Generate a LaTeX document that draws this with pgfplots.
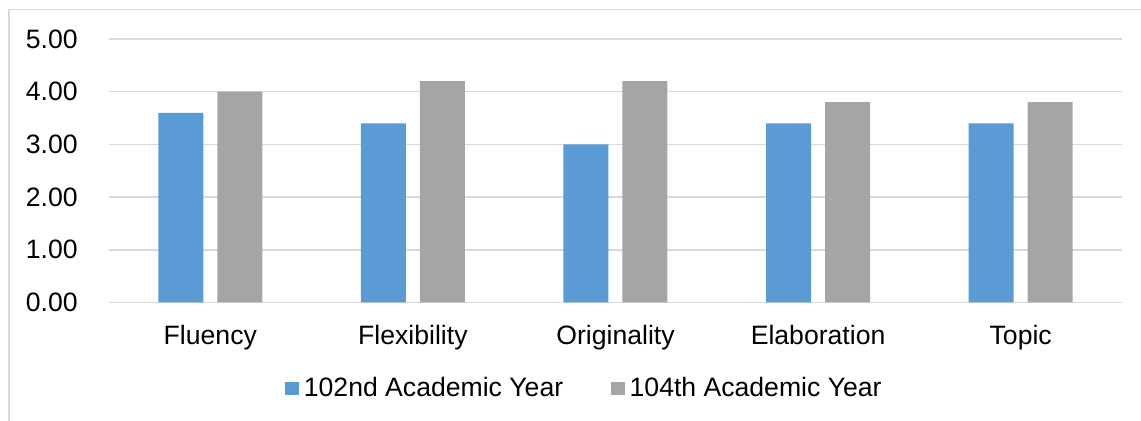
\documentclass[border=0pt]{standalone}
\usepackage{pgfplots}
\pgfplotsset{compat=1.18}
\usepackage{fontspec}
\setmainfont{Liberation Sans}
\definecolor{blueS}{HTML}{5B9BD5}
\definecolor{grayS}{HTML}{A5A5A5}
\definecolor{gridc}{HTML}{D9D9D9}
\begin{document}
\fontsize{13.3}{16}\selectfont
\begin{tikzpicture}
\path[use as bounding box] (0,0) rectangle (570.5pt,210.5pt);
\draw[gridc, line width=0.75pt] (4.5pt,-1pt) -- (4.5pt,205.75pt) -- (572pt,205.75pt);
\begin{axis}[
 scale only axis, width=506.5pt, height=131.75pt,
 at={(54.5pt,59.25pt)}, anchor=south west,
 xmin=-0.5, xmax=4.5, ymin=0, ymax=5,
 axis line style={draw=none},
 ymajorgrids, grid style={gridc, line width=0.75pt},
 major tick length=0pt,
 xtick={0,...,4}, xticklabels={Fluency,Flexibility,Originality,Elaboration,Topic},
 ytick={0,1,...,5},
 /pgf/number format/assume math mode=true,
 y tick label style={/pgf/number format/fixed, /pgf/number format/fixed zerofill, /pgf/number format/precision=2, anchor=east, inner sep=0pt, xshift=-15.5pt},
 x tick label style={anchor=north, inner sep=0pt, yshift=-11.25pt},
 tick label style={font=\fontsize{13.3}{16}\selectfont},
 legend style={draw=none, fill=none, at={(0.4694,-0.3283)}, anchor=center, legend columns=2,
   font=\fontsize{13.3}{16}\selectfont, nodes={inner sep=1pt},
   /tikz/every odd column/.append style={column sep=1.5pt},
   /tikz/every even column/.append style={column sep=23pt}},
]
\addplot[ybar, fill=blueS, draw=none, bar width=22.5pt, bar shift=-14.75pt,
  legend image code/.code={\fill[blueS] (0pt,-3.25pt) rectangle (6.75pt,3.25pt);}]
  coordinates {(0,3.6) (1,3.4) (2,3.0) (3,3.4) (4,3.4)};
\addlegendentry{102nd Academic Year}
\addplot[ybar, fill=grayS, draw=none, bar width=22.5pt, bar shift=14.75pt,
  legend image code/.code={\fill[grayS] (0pt,-3.25pt) rectangle (6.75pt,3.25pt);}]
  coordinates {(0,4.0) (1,4.2) (2,4.2) (3,3.8) (4,3.8)};
\addlegendentry{104th Academic Year}
\end{axis}
\end{tikzpicture}
\end{document}
